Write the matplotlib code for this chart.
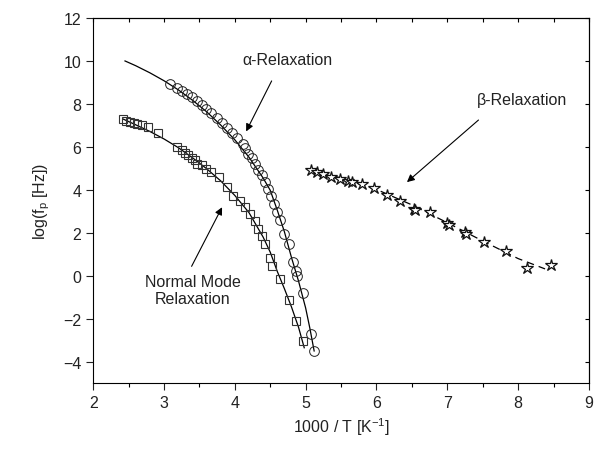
import numpy as np
import matplotlib.pyplot as plt
from matplotlib.ticker import MultipleLocator

plt.rcParams['font.family'] = ['Liberation Sans', 'DejaVu Sans']
plt.rcParams['mathtext.fontset'] = 'custom'
plt.rcParams['mathtext.rm'] = 'Liberation Sans'
plt.rcParams['mathtext.it'] = 'Liberation Sans:italic'
plt.rcParams['axes.linewidth'] = 0.8

# alpha relaxation (circles) and its fit
alpha_x = [3.09, 3.18, 3.25, 3.32, 3.39, 3.46, 3.53, 3.60, 3.67, 3.75, 3.82, 3.89,
           3.96, 4.03, 4.12, 4.14, 4.19, 4.24, 4.28, 4.33, 4.38, 4.43, 4.47, 4.51,
           4.55, 4.60, 4.64, 4.70, 4.76, 4.82, 4.87, 4.88, 4.96, 5.07, 5.12]
alpha_y = [8.91, 8.75, 8.60, 8.47, 8.32, 8.13, 7.97, 7.76, 7.58, 7.34, 7.11, 6.87,
           6.64, 6.40, 6.12, 5.93, 5.69, 5.46, 5.22, 4.91, 4.67, 4.36, 4.05, 3.72,
           3.34, 2.96, 2.59, 1.94, 1.46, 0.63, 0.20, -0.03, -0.81, -2.73, -3.48]
alpha_fit_x = [2.45, 2.6, 2.8, 3.0, 3.2, 3.4, 3.6, 3.8, 4.0, 4.2, 4.4, 4.5, 4.6,
               4.7, 4.8, 4.9, 5.0, 5.06, 5.12]
alpha_fit_y = [10.0, 9.78, 9.45, 9.08, 8.66, 8.18, 7.64, 7.02, 6.33, 5.52, 4.55,
               3.98, 3.05, 2.05, 0.85, -0.25, -1.5, -2.45, -3.5]

# normal mode (squares) and its fit
nm_x = [2.42, 2.47, 2.52, 2.57, 2.62, 2.69, 2.77, 2.92, 3.18, 3.25, 3.30, 3.34,
        3.39, 3.44, 3.46, 3.53, 3.60, 3.67, 3.77, 3.89, 3.98, 4.07, 4.14, 4.21,
        4.28, 4.33, 4.38, 4.43, 4.49, 4.53, 4.64, 4.76, 4.87, 4.96]
nm_y = [7.29, 7.21, 7.15, 7.09, 7.06, 7.00, 6.92, 6.66, 6.01, 5.85, 5.73, 5.61,
        5.49, 5.38, 5.22, 5.14, 4.99, 4.83, 4.60, 4.13, 3.73, 3.50, 3.19, 2.87,
        2.56, 2.16, 1.85, 1.46, 0.83, 0.47, -0.16, -1.13, -2.10, -3.04]
nm_fit_x = [2.42, 2.6, 2.8, 3.0, 3.2, 3.4, 3.6, 3.8, 4.0, 4.2, 4.4, 4.5, 4.6,
            4.7, 4.8, 4.9, 4.98]
nm_fit_y = [7.3, 7.03, 6.72, 6.37, 5.97, 5.5, 4.99, 4.42, 3.74, 2.94, 1.8,
            1.1, 0.2, -0.6, -1.45, -2.4, -3.35]

# beta relaxation (stars) and its fit
beta_x = [5.08, 5.16, 5.25, 5.36, 5.48, 5.60, 5.66, 5.80, 5.97, 6.15, 6.33, 6.53,
          6.55, 6.76, 7.00, 7.02, 7.25, 7.27, 7.52, 7.83, 8.12, 8.47]
beta_y = [4.91, 4.83, 4.75, 4.62, 4.50, 4.42, 4.36, 4.27, 4.07, 3.75, 3.50, 3.13,
          3.05, 2.95, 2.45, 2.38, 2.02, 1.95, 1.55, 1.14, 0.36, 0.52]
beta_fit_x = [5.05, 5.5, 6.0, 6.5, 7.0, 7.5, 8.0, 8.38]
beta_fit_y = [4.98, 4.55, 4.02, 3.3, 2.47, 1.62, 0.8, 0.32]

fig = plt.figure(figsize=(5.97, 4.52), dpi=100)
ax = fig.add_axes([0.156, 0.150, 0.8306, 0.808])

ax.plot(alpha_fit_x, alpha_fit_y, color='k', lw=0.9)
ax.plot(nm_fit_x, nm_fit_y, color='k', lw=0.9)
ax.plot(beta_fit_x, beta_fit_y, color='k', lw=0.9, dashes=(6, 4))

ax.plot(alpha_x, alpha_y, 'o', ms=7, mfc='none', mec='#222222', mew=0.7)
ax.plot(nm_x, nm_y, 's', ms=6, mfc='none', mec='#333333', mew=0.8)
ax.plot(beta_x, beta_y, '*', ms=9, mfc='white', mec='#111111', mew=0.9)

arrow = dict(arrowstyle='-|>', color='k', lw=0.8, mutation_scale=11, shrinkA=0, shrinkB=0)
ax.text(4.75, 10.07, '\u03b1-Relaxation', ha='center', va='center', fontsize=11.5, color='#222222')
ax.annotate('', xy=(4.16, 6.72), xytext=(4.52, 9.07), arrowprops=arrow)
ax.text(8.06, 8.19, '\u03b2-Relaxation', ha='center', va='center', fontsize=11.5, color='#222222')
ax.annotate('', xy=(6.43, 4.36), xytext=(7.44, 7.25), arrowprops=arrow)
ax.text(3.41, -0.65, 'Normal Mode\nRelaxation', ha='center', va='center', fontsize=11.5,
        color='#222222', linespacing=1.15)
ax.annotate('', xy=(3.82, 3.19), xytext=(3.39, 0.44), arrowprops=arrow)

ax.set_xlim(2, 9)
ax.set_ylim(-5, 12)
ax.xaxis.set_major_locator(MultipleLocator(1))
ax.xaxis.set_minor_locator(MultipleLocator(0.5))
ax.set_yticks(np.arange(-4, 13, 2))
ax.tick_params(which='major', direction='out', length=5, width=0.8, labelsize=11.5, colors='#222222')
ax.tick_params(which='minor', direction='out', length=3, width=0.8)
ax.set_xlabel('1000 / T [K$^{\u22121}$]', fontsize=11.5, color='#222222', labelpad=4)
ax.set_ylabel('log($\\mathregular{f_p}$ [Hz])', fontsize=11.5, color='#222222', labelpad=8)

top = ax.secondary_xaxis('top')
top.xaxis.set_major_locator(MultipleLocator(0.5))
top.tick_params(direction='in', length=3, width=0.8, labeltop=False)
right = ax.secondary_yaxis('right')
right.set_yticks(np.arange(-4, 13, 2))
right.tick_params(direction='in', length=3, width=0.8, labelright=False)

fig.savefig('out.png', dpi=100)
